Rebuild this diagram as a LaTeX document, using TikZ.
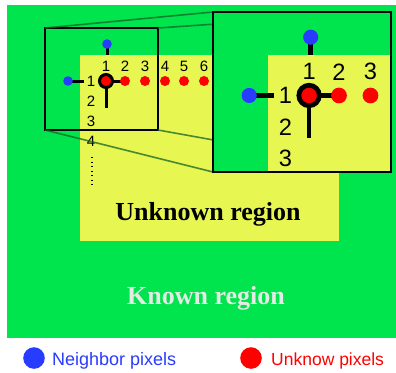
\documentclass[tikz,border=0pt]{standalone}
\usepackage{fontspec}
\setmainfont{Liberation Serif}
\newfontfamily\arialf{Liberation Sans}
\definecolor{bggreen}{RGB}{0,228,77}
\definecolor{bgyellow}{RGB}{232,246,82}
\definecolor{dotblue}{RGB}{40,60,255}
\definecolor{dotred}{RGB}{255,0,0}
\definecolor{linkgreen}{RGB}{20,100,40}
\definecolor{knowngray}{RGB}{228,234,228}
\newcommand\gridcontent[1]{%
  \draw[line width=#1*3pt] (107,44) -- (107,55);
  \draw[line width=#1*3pt] (68,81) -- (84,81);
  \draw[line width=#1*3pt] (106,81) -- (122,81);
  \draw[line width=#1*3pt] (106,81) -- (106,108);
  \fill[dotblue] (107,44) circle[radius=4.8];
  \fill[dotblue] (68,81) circle[radius=4.8];
  \foreach \xx in {125,145,165,184,204} {\fill[dotred] (\xx,81) circle[radius=5];}
  \draw[line width=#1*3pt, fill=dotred] (106,81) circle[radius=6.5];
  \node[num] (c1) at (106,66) {1};
  \node[num] (c2) at (125,66) {2};
  \node[num] (c3) at (145,66) {3};
  \node[num] (r1) at (91,81) {1};
  \node[num] (r2) at (91,101) {2};
  \node[num] (r3) at (91,121) {3};
}
\begin{document}
\begin{tikzpicture}[x=1pt,y=-1pt,
  num/.style={font=\arialf\fontsize{15}{15}\selectfont, inner sep=0pt},
  link/.style={draw=linkgreen, line width=1.6pt, opacity=0.75},
  frame/.style={draw=black, line width=1.8pt},
  legend/.style={font=\arialf\fontsize{18}{18}\selectfont, inner sep=0pt, anchor=base west}]
\useasboundingbox (0,0) rectangle (396,372);
\fill[white] (0,0) rectangle (396,372);
% regions
\fill[bggreen] (7,5) rectangle (396,338);
\fill[bgyellow] (80,55) rectangle (339,241);
% small content
\begin{scope}[name prefix=s-]
  \gridcontent{1}
  \node[num] (c4) at (165,66) {4};
  \node[num] (c5) at (184,66) {5};
  \node[num] (c6) at (204,66) {6};
  \node[num] (r4) at (91,141) {4};
\end{scope}
\draw[line width=1.6pt, dash pattern=on 1.4pt off 3.1pt] (92,157) -- (92,187);
% small frame
\coordinate (sa) at (45,28); \coordinate (sb) at (158,28);
\coordinate (sc) at (158,130); \coordinate (sd) at (45,130);
\coordinate (ba) at (213,12); \coordinate (bb) at (391,12);
\coordinate (bc) at (391,172); \coordinate (bd) at (213,172);
\draw[frame] (sa) rectangle (sc);
% zoom links
\draw[link] (sa) -- (ba);
\draw[link] (sb) -- (bb);
\draw[link] (sd) -- (bd);
\draw[link] (sc) -- (bc);
% big box
\begin{scope}
  \clip (ba) rectangle (bc);
  \fill[bggreen] (ba) rectangle (bc);
  \begin{scope}[shift={(213,12)}, scale=1.575, shift={(-45,-28)}, transform shape, name prefix=b-]
    \fill[bgyellow] (80,55) rectangle (339,241);
    \gridcontent{1.575}
  \end{scope}
\end{scope}
\draw[frame] (ba) rectangle (bc);
% region labels
\node[font=\bfseries\fontsize{26}{26}\selectfont, inner sep=0pt, anchor=base] (unk) at (208,220) {Unknown region};
\node[font=\bfseries\fontsize{26}{26}\selectfont, text=knowngray, inner sep=0pt, anchor=base] (kn) at (206,304) {Known region};
% legend
\fill[dotblue] (34,358) circle[radius=10.8];
\node[legend, text=dotblue] (lb) at (52,365) {Neighbor pixels};
\fill[dotred] (251,358) circle[radius=10.8];
\node[legend, text=dotred, font=\arialf\fontsize{17.5}{17.5}\selectfont] (lr) at (271,365) {Unknow pixels};
\end{tikzpicture}
\end{document}
